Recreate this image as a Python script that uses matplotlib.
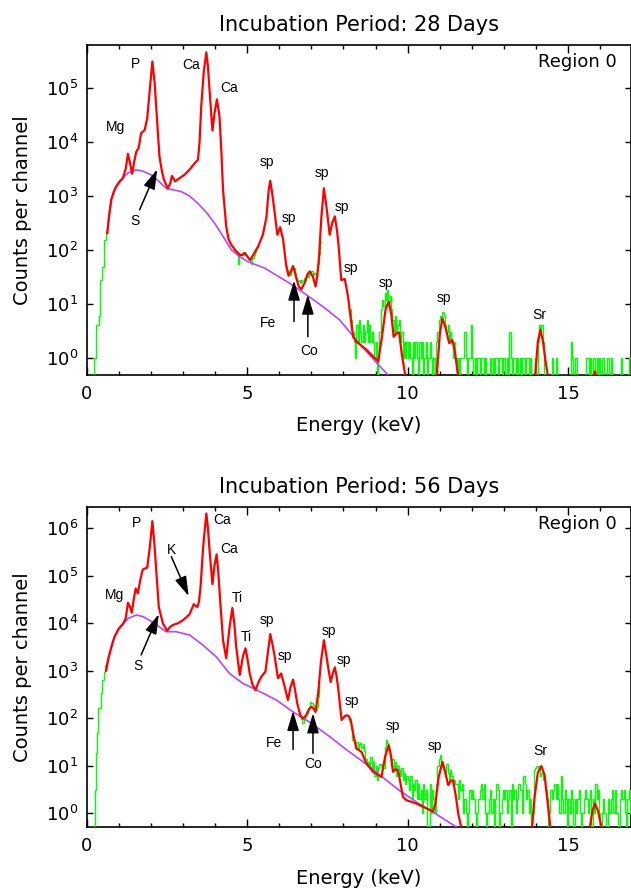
import numpy as np
import matplotlib
matplotlib.use("Agg")
import matplotlib.pyplot as plt
from matplotlib.ticker import FixedLocator, MultipleLocator, NullLocator
from matplotlib.patches import ArrowStyle

plt.rcParams['font.family'] = ['DejaVu Sans']

# ---------------- DATA: 28 days ----------------
red28_E = [0.645, 0.70, 0.77, 0.85, 0.92, 1.02, 1.13, 1.22, 1.29, 1.35, 1.42, 1.48, 1.55, 1.62, 1.70, 1.81,
           1.89, 1.96, 2.05, 2.12, 2.17, 2.27, 2.35, 2.41, 2.53, 2.60, 2.66, 2.76, 2.90, 3.05, 3.20, 3.36,
           3.47, 3.52, 3.57, 3.65, 3.73, 3.78, 3.83, 3.92, 3.99, 4.06, 4.14, 4.20, 4.25, 4.35, 4.42, 4.51,
           4.65, 4.77, 4.85, 4.92, 5.00, 5.10, 5.20, 5.34, 5.49, 5.60, 5.67, 5.72, 5.78, 5.86, 5.94, 6.03,
           6.12, 6.22, 6.29, 6.36, 6.43, 6.53, 6.61, 6.69, 6.80, 6.88, 6.95, 7.05, 7.13, 7.18, 7.24, 7.31,
           7.39, 7.47, 7.57, 7.65, 7.73, 7.80, 7.85, 7.93, 8.04, 8.14, 8.22, 8.30, 8.40, 8.71, 9.08, 9.20,
           9.31, 9.41, 9.49, 9.56, 9.65, 9.73, 9.82, 9.91, 9.96, 10.85, 10.92, 11.00, 11.08, 11.18, 11.29,
           11.39, 11.47, 11.57, 11.62, 13.90, 13.97, 14.05, 14.13, 14.21, 14.30, 14.38, 14.42, 15.72, 15.78,
           15.83, 15.88, 15.93, 16.95]
red28_log10 = [2.31, 2.62, 2.93, 3.08, 3.17, 3.26, 3.33, 3.50, 3.78, 3.62, 3.41, 3.62, 3.82, 3.88, 4.16, 4.22,
               4.44, 4.90, 5.49, 5.10, 4.65, 3.73, 3.45, 3.30, 3.14, 3.22, 3.37, 3.27, 3.33, 3.39, 3.48, 3.60,
               3.67, 4.00, 4.65, 5.30, 5.66, 5.40, 4.96, 4.21, 4.55, 4.79, 4.47, 3.80, 3.11, 2.43, 2.20, 2.09,
               1.98, 1.91, 1.90, 1.94, 1.88, 1.81, 1.92, 2.06, 2.28, 2.60, 3.10, 3.28, 3.05, 2.68, 2.28, 2.42,
               2.19, 1.69, 1.52, 1.60, 1.70, 1.48, 1.32, 1.27, 1.40, 1.55, 1.60, 1.50, 1.32, 1.50, 1.88, 2.60,
               3.14, 2.80, 2.28, 2.50, 2.62, 2.35, 2.06, 1.44, 1.46, 1.14, 0.75, 0.39, 0.30, 0.15, -0.07, 0.40,
               0.90, 1.04, 0.80, 0.39, 0.45, 0.47, 0.05, -0.28, -1.0, -1.0, -0.20, 0.45, 0.73, 0.55, 0.27,
               0.33, 0.10, -0.35, -1.0, -1.0, -0.30, 0.30, 0.52, 0.30, -0.10, -0.40, -1.0, -1.0, -0.35,
               -0.25, -0.35, -1.0, -1.0]

bkg28_E = [0.645, 0.77, 0.92, 1.13, 1.30, 1.55, 1.75, 2.01, 2.25, 2.48, 2.70, 2.95, 3.20, 3.47, 3.75, 3.99,
           4.25, 4.51, 4.77, 5.03, 5.55, 5.80, 6.30, 6.84, 7.40, 7.88, 8.40, 9.13, 9.39]
bkg28_log10 = [2.31, 2.93, 3.17, 3.33, 3.43, 3.48, 3.46, 3.39, 3.27, 3.14, 3.11, 3.08, 3.00, 2.86, 2.68, 2.49,
               2.25, 2.00, 1.87, 1.78, 1.66, 1.57, 1.39, 1.17, 0.93, 0.70, 0.33, -0.16, -0.32]

rise28_edges = [0.0, 0.22, 0.30, 0.38, 0.43, 0.48, 0.54, 0.60, 0.66]
rise28_counts = [0, 1, 4, 6, 28, 49, 155, 205]

midA28_start = 4.52
midA28_counts = [120, 110, 100, 95, 85, 55, 82, 80, 86, 90, 88, 80, 75, 68, 60, 55, 70, 80, 92, 105, 115]
midB28_start = 6.20
midB28_counts = [50, 42, 36, 34, 42, 50, 46, 38, 30, 26, 28, 24, 28, 26, 30, 28, 34, 32, 38, 36, 40, 34, 38,
                 36, 42, 55, 85, 140]

tail28_start = 8.20
tail28_counts = [8, 5, 3, 2, 1, 4, 2, 5, 3, 2, 4, 2, 3, 5, 2, 4, 2, 3, 2, 1, 2, 0, 1, 3, 8,
                 12, 9, 16, 12, 18, 11, 14, 8, 5, 3, 6, 3, 4, 5, 2, 3, 1, 2, 1, 2,
                 1, 2, 1, 0, 2, 1, 2, 1, 0, 2, 1, 2, 0, 1, 2, 0, 1, 2, 1, 0, 1, 0,
                 2, 3, 5, 6, 5, 7, 6, 4, 3, 4, 2, 3, 2, 1, 2, 1,
                 0, 1, 0, 1, 1, 1, 3, 1, 0, 1, 1, 4, 1, 0, 1, 0, 1, 1, 0, 1, 1, 0, 1, 0, 0,
                 0, 1, 0, 1, 0, 1, 1, 0, 1, 1, 0, 1, 1, 0, 1, 0, 3, 1, 0, 1, 1, 0, 1, 0, 1,
                 0, 1, 1, 0, 1, 1, 0, 1, 0, 0, 0, 1, 0, 2, 4, 3, 4, 2, 0, 0, 0, 0, 0, 0, 1,
                 0, 0, 1, 0, 0, 0, 0, 0, 0, 0, 0, 0, 0, 0, 2, 1, 0, 1, 1, 0, 0, 0, 0, 0, 0,
                 0, 1, 1, 0, 1, 0, 1, 1, 0, 1, 0, 1, 0, 1, 1, 0, 0, 1, 1, 0, 1, 0, 0, 0, 0,
                 0, 0, 0, 1, 0, 0, 0, 0, 0, 1, 1, 0]

labels28 = [("Mg", 0.90, 4.27), ("P", 1.53, 5.44), ("Ca", 3.26, 5.43), ("Ca", 4.45, 4.99), ("S", 1.50, 2.54),
            ("sp", 5.62, 3.62), ("sp", 6.29, 2.59), ("Fe", 5.65, 0.64), ("Co", 6.93, 0.13), ("sp", 7.33, 3.42),
            ("sp", 7.95, 2.80), ("sp", 8.24, 1.66), ("sp", 9.31, 1.38), ("sp", 11.12, 1.11), ("Sr", 14.11, 0.80)]
arrows28 = [((1.65, 2.74), (2.20, 3.49)), ((6.46, 0.67), (6.46, 1.43)), ((6.89, 0.39), (6.89, 1.17))]

# ---------------- DATA: 56 days ----------------
red56_E = [0.61, 0.66, 0.72, 0.80, 0.87, 1.00, 1.13, 1.22, 1.29, 1.35, 1.41, 1.47, 1.53, 1.60, 1.67, 1.75,
           1.82, 1.89, 1.97, 2.05, 2.11, 2.17, 2.25, 2.38, 2.51, 2.60, 2.69, 2.85, 3.00, 3.10, 3.21, 3.28,
           3.34, 3.40, 3.45, 3.50, 3.55, 3.63, 3.73, 3.78, 3.83, 3.92, 3.98, 4.05, 4.10, 4.16, 4.25, 4.35,
           4.45, 4.54, 4.60, 4.66, 4.77, 4.87, 4.95, 5.01, 5.08, 5.17, 5.26, 5.35, 5.44, 5.57, 5.64, 5.72,
           5.79, 5.86, 5.96, 6.06, 6.17, 6.27, 6.35, 6.43, 6.49, 6.56, 6.66, 6.74, 6.84, 6.92, 7.00, 7.07,
           7.13, 7.21, 7.30, 7.39, 7.46, 7.52, 7.60, 7.67, 7.73, 7.78, 7.83, 7.94, 8.04, 8.10, 8.17, 8.24,
           8.30, 8.40, 8.56, 8.71, 8.92, 9.08, 9.18, 9.30, 9.41, 9.48, 9.54, 9.62, 9.70, 9.78, 9.85, 9.96,
           10.27, 10.58, 10.79, 10.86, 10.96, 11.08, 11.17, 11.26, 11.34, 11.41, 11.50, 11.57, 11.67, 11.72,
           13.80, 13.87, 13.95, 14.05, 14.16, 14.26, 14.35, 14.44, 14.50, 15.60, 15.67, 15.75, 15.83, 15.92,
           16.03, 16.08, 16.95]
red56_log10 = [3.00, 3.20, 3.36, 3.56, 3.71, 3.88, 3.98, 4.10, 4.43, 4.35, 4.22, 4.50, 4.73, 4.63, 4.90, 5.13,
               5.15, 5.17, 5.60, 6.15, 5.70, 5.13, 4.34, 3.99, 3.84, 3.92, 3.96, 4.00, 4.06, 4.12, 4.19, 4.30,
               4.40, 4.36, 4.34, 4.45, 4.76, 5.60, 6.31, 6.00, 5.54, 4.82, 5.20, 5.45, 5.10, 4.48, 3.64, 3.26,
               3.90, 4.32, 4.00, 3.50, 2.91, 3.30, 3.47, 3.25, 2.94, 2.70, 2.59, 2.75, 2.87, 2.98, 3.35, 3.77,
               3.55, 3.29, 2.84, 2.94, 2.66, 2.38, 2.65, 2.81, 2.60, 2.31, 2.05, 1.99, 2.06, 2.18, 2.24, 2.20,
               2.13, 2.52, 3.20, 3.64, 3.35, 3.08, 2.76, 2.95, 3.07, 2.90, 2.66, 1.96, 2.04, 2.06, 2.04, 1.90,
               1.68, 1.36, 1.29, 1.05, 0.87, 0.80, 0.76, 1.20, 1.43, 1.20, 0.87, 0.92, 0.90, 0.60, 0.34, 0.27,
               0.20, 0.10, 0.03, 0.20, 0.75, 1.08, 0.85, 0.59, 0.68, 0.69, 0.35, -0.01, -0.32, -1.0,
               -1.0, -0.30, 0.35, 0.85, 0.99, 0.80, 0.25, -0.30, -1.0, -1.0, -0.30, 0.05, 0.20, 0.05,
               -0.30, -1.0, -1.0]

bkg56_E = [0.61, 0.72, 0.87, 1.00, 1.13, 1.30, 1.55, 1.75, 1.96, 2.27, 2.48, 2.79, 3.21, 3.62, 4.04, 4.45,
           4.87, 5.39, 5.91, 6.43, 7.00, 7.57, 8.10, 8.71, 9.13, 9.75, 10.30, 10.79, 11.20, 11.60]
bkg56_log10 = [3.00, 3.36, 3.71, 3.88, 3.98, 4.10, 4.17, 4.14, 4.06, 3.92, 3.82, 3.82, 3.75, 3.54, 3.29, 2.94,
               2.73, 2.56, 2.38, 2.13, 1.89, 1.61, 1.33, 1.03, 0.80, 0.47, 0.22, 0.02, -0.16, -0.33]

rise56_edges = [0.0, 0.25, 0.28, 0.32, 0.37, 0.44, 0.49, 0.54, 0.59, 0.64]
rise56_counts = [0, 3, 18, 48, 160, 330, 630, 950, 1300]

midB56_start = 6.60
midB56_counts = [130, 110, 95, 78, 100, 110, 125, 150, 170, 220, 210, 190, 160, 145, 170, 280, 500]

tail56_start = 8.20
tail56_counts = [100, 60, 35, 30, 25, 32, 22, 28, 30, 24, 28, 20, 14, 10, 12, 10, 15, 8, 12, 6, 10, 5, 9, 11, 10,
                 11, 9, 25, 35, 30, 22, 16, 10, 14, 8, 12, 6, 10, 8, 6, 9, 5, 7, 4, 6,
                 5, 3, 6, 2, 4, 3, 5, 2, 4, 2, 3, 1, 4, 2, 3, 0, 0, 4, 1, 3, 2, 1,
                 4, 10, 14, 17, 12, 10, 8, 6, 11, 7, 5, 8, 6, 4, 5, 4,
                 4, 2, 5, 3, 4, 1, 2, 1, 0, 1, 3, 2, 3, 2, 1, 0, 1, 2, 3, 4, 2, 4, 1, 0, 1,
                 2, 3, 1, 2, 0, 2, 4, 3, 0, 1, 2, 3, 2, 3, 1, 2, 3, 0, 4, 2, 3, 1, 2, 4, 3,
                 3, 1, 6, 4, 2, 3, 1, 2, 0, 1, 8, 9, 10, 9, 10, 6, 7, 5, 6, 3, 2, 0, 1, 3, 2,
                 3, 4, 2, 4, 2, 1, 6, 2, 1, 3, 2, 0, 2, 1, 3, 2, 0, 2, 1, 2, 3, 1, 0, 1, 2,
                 3, 2, 1, 2, 3, 0, 2, 1, 4, 2, 3, 1, 0, 1, 2, 1, 0, 0, 2, 1, 2, 3, 1, 3, 1,
                 1, 0, 2, 3, 2, 3, 1, 0, 2, 3, 1, 2]

labels56 = [("Mg", 0.87, 4.60), ("P", 1.55, 6.10), ("Ca", 4.23, 6.17), ("Ca", 4.45, 5.57), ("K", 2.64, 5.55),
            ("S", 1.60, 3.09), ("Ti", 4.68, 4.53), ("Ti", 4.99, 3.70), ("sp", 5.62, 4.06), ("sp", 6.19, 3.31),
            ("Fe", 5.83, 1.47), ("Co", 7.05, 1.03), ("sp", 7.55, 3.84), ("sp", 8.02, 3.22), ("sp", 8.25, 2.36),
            ("sp", 9.54, 1.84), ("sp", 10.86, 1.42), ("Sr", 14.13, 1.31)]
arrows56 = [((1.70, 3.33), (2.25, 4.19)), ((2.64, 5.40), (3.18, 4.57)), ((6.43, 1.34), (6.43, 2.15)),
            ((7.05, 1.26), (7.05, 2.10))]

titles = ["Incubation Period: 28 Days", "Incubation Period: 56 Days"]
region_label = "Region 0"
xlabel = "Energy (keV)"
ylabel = "Counts per channel"
chan_w = 0.04

GREEN = "#00FF00"
RED = "#FF0000"
PURPLE = "#BB44FF"


def stairs(ax, edges, counts, floor):
    ax.stairs(np.maximum(np.asarray(counts, float), floor), np.asarray(edges, float), baseline=None,
              color=GREEN, lw=1.0, zorder=2.6)


def channel_edges(start, n):
    return start + chan_w * np.arange(n + 1)


fig = plt.figure(figsize=(6.31, 8.89), dpi=100)
ax1 = fig.add_axes([0.1371, 0.5782, 0.8629, 0.3712])
ax2 = fig.add_axes([0.1371, 0.0697, 0.8629, 0.3600])

configs = [
    (ax1, (0.48, 6.25e5), [1, 10, 100, 1e3, 1e4, 1e5], rise28_edges, rise28_counts,
     [(midA28_start, midA28_counts), (midB28_start, midB28_counts), (tail28_start, tail28_counts)],
     bkg28_E, bkg28_log10, red28_E, red28_log10, labels28, arrows28, 0.9655, 0.5152, 0.7638),
    (ax2, (0.507, 2.8e6), [1, 10, 100, 1e3, 1e4, 1e5, 1e6], rise56_edges, rise56_counts,
     [(midB56_start, midB56_counts), (tail56_start, tail56_counts)],
     bkg56_E, bkg56_log10, red56_E, red56_log10, labels56, arrows56, 0.445, 0.0056, 0.2497),
]

arrow_style = ArrowStyle("-|>", head_length=0.6, head_width=0.18)

for i, (ax, ylim, yt, r_edges, r_counts, segs, bE, bL, rE, rL, labs, arrs, ty, xly, yly) in enumerate(configs):
    ax.set_yscale('log')
    ax.set_xlim(0, 16.95)
    ax.set_ylim(*ylim)
    floor = ylim[0]
    stairs(ax, r_edges, r_counts, floor)
    for start, cnts in segs:
        stairs(ax, channel_edges(start, len(cnts)), cnts, floor)
    ax.plot(bE, 10 ** np.asarray(bL), color=PURPLE, lw=1.2, zorder=2.7)
    ax.plot(rE, 10 ** np.asarray(rL), color=RED, lw=1.6, zorder=2.8, solid_joinstyle='round')

    for txt, x, ly in labs:
        ax.text(x, 10 ** ly, txt, fontsize=10, family=['Liberation Sans', 'DejaVu Sans'],
                ha='center', va='center', zorder=5)
    for (tx, tly), (hx, hly) in arrs:
        ax.annotate('', xy=(hx, 10 ** hly), xytext=(tx, 10 ** tly),
                    arrowprops=dict(arrowstyle=arrow_style, color='black', lw=1.1,
                                    shrinkA=0, shrinkB=0, mutation_scale=20), zorder=5)

    ax.text(0.974, 0.948, region_label, transform=ax.transAxes, ha='right', va='center', fontsize=13)

    ax.xaxis.set_major_locator(FixedLocator([0, 5, 10, 15]))
    ax.xaxis.set_minor_locator(MultipleLocator(1))
    ax.yaxis.set_major_locator(FixedLocator(yt))
    ax.yaxis.set_minor_locator(NullLocator())
    ax.tick_params(which='both', direction='in', top=True, right=True, width=1.0, labelsize=13)
    ax.tick_params(axis='x', which='major', length=5.5, pad=7)
    ax.tick_params(axis='x', which='minor', length=3.2)
    ax.tick_params(axis='y', which='major', length=4.5, pad=6)
    for sp in ax.spines.values():
        sp.set_linewidth(1.2)

    xc = 0.1371 + 0.8629 / 2
    fig.text(xc, ty, titles[i], ha='center', va='baseline', fontsize=15)
    fig.text(xc, xly, xlabel, ha='center', va='baseline', fontsize=14)
    fig.text(0.0349, yly, ylabel, ha='center', va='center', rotation=90, fontsize=14)

fig.savefig("out.png", dpi=100)
